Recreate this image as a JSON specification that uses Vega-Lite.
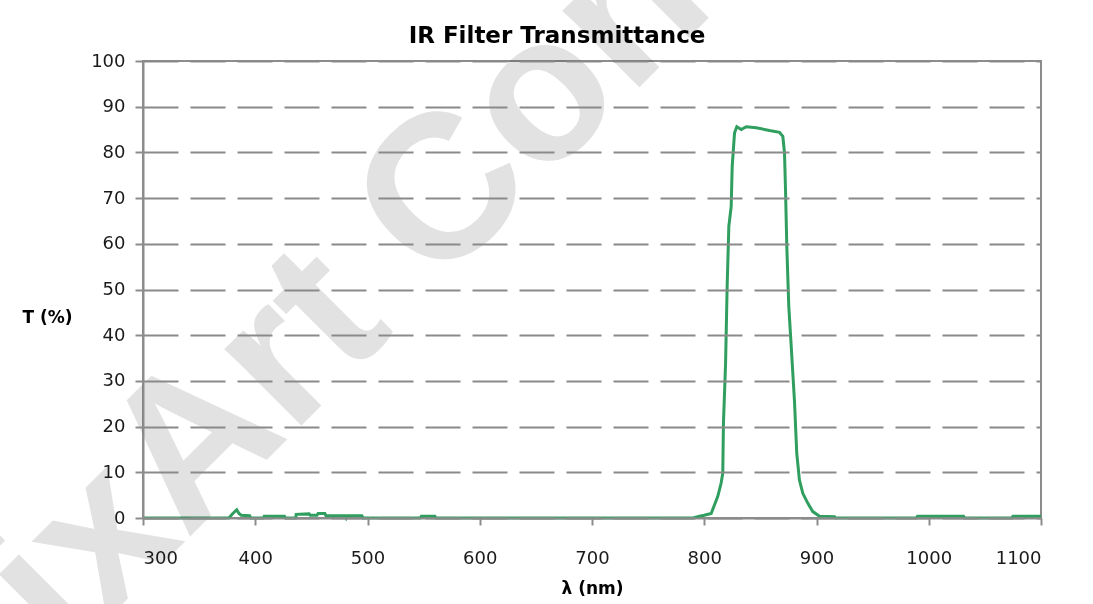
{
  "$schema": "https://vega.github.io/schema/vega-lite/v6.json",
  "width": 898,
  "height": 457,
  "autosize": {"type": "none"},
  "padding": {"left": 143, "top": 61, "right": 52, "bottom": 86},
  "background": "white",
  "config": {"font": "DejaVu Sans", "view": {"stroke": "#8c8c8c", "strokeWidth": 2}},
  "title": {"text": "IR Filter Transmittance", "font": "DejaVu Sans", "fontSize": 23, "fontWeight": "bold", "color": "#000000", "anchor": "middle", "dx": -35, "baseline": "alphabetic", "offset": -729},
  "data": {"values": [
    {"nm": 300, "T": 0}, {"nm": 370, "T": 0}, {"nm": 376.5, "T": 0}, {"nm": 380, "T": 1.0}, {"nm": 383.5, "T": 1.8},
    {"nm": 385.5, "T": 1.0}, {"nm": 387.5, "T": 0.6}, {"nm": 395, "T": 0.5}, {"nm": 396, "T": 0}, {"nm": 407, "T": 0},
    {"nm": 408, "T": 0.4}, {"nm": 426, "T": 0.4}, {"nm": 427, "T": 0}, {"nm": 436, "T": 0}, {"nm": 436.5, "T": 0.8},
    {"nm": 448, "T": 0.9}, {"nm": 449, "T": 0.6}, {"nm": 455, "T": 0.6}, {"nm": 456, "T": 1.0}, {"nm": 462, "T": 1.0},
    {"nm": 463, "T": 0.5}, {"nm": 480, "T": 0.5}, {"nm": 481, "T": 0}, {"nm": 482, "T": 0.5}, {"nm": 495, "T": 0.5},
    {"nm": 496, "T": 0}, {"nm": 547, "T": 0}, {"nm": 548, "T": 0.4}, {"nm": 560, "T": 0.4}, {"nm": 561, "T": 0},
    {"nm": 790, "T": 0}, {"nm": 795.8, "T": 0.4}, {"nm": 800, "T": 0.6}, {"nm": 806.2, "T": 1.0}, {"nm": 809, "T": 2.8},
    {"nm": 812, "T": 4.7}, {"nm": 815, "T": 7.6}, {"nm": 816.5, "T": 9.8}, {"nm": 817.1, "T": 20.7}, {"nm": 819, "T": 33.9},
    {"nm": 820.4, "T": 50.7}, {"nm": 821.9, "T": 63.8}, {"nm": 824, "T": 68.2}, {"nm": 824.9, "T": 77}, {"nm": 827, "T": 84.3},
    {"nm": 829, "T": 85.6}, {"nm": 833, "T": 85}, {"nm": 837.4, "T": 85.6}, {"nm": 846.3, "T": 85.4}, {"nm": 858.1, "T": 84.8},
    {"nm": 867, "T": 84.4}, {"nm": 870, "T": 83.5}, {"nm": 871.5, "T": 79.9}, {"nm": 872.4, "T": 71.9}, {"nm": 873.5, "T": 59.8},
    {"nm": 875.3, "T": 46.3}, {"nm": 877.4, "T": 37.9}, {"nm": 880.4, "T": 25.5}, {"nm": 882.4, "T": 14.2}, {"nm": 884.8, "T": 8.3},
    {"nm": 887.8, "T": 5.4}, {"nm": 892.3, "T": 3.2}, {"nm": 896.7, "T": 1.4}, {"nm": 902.7, "T": 0.4}, {"nm": 916, "T": 0.3},
    {"nm": 917, "T": 0}, {"nm": 989, "T": 0}, {"nm": 990, "T": 0.4}, {"nm": 1031, "T": 0.4}, {"nm": 1032, "T": 0},
    {"nm": 1074, "T": 0}, {"nm": 1075, "T": 0.4}, {"nm": 1100, "T": 0.4}
  ]},
  "layer": [
    {
      "mark": {"type": "line", "color": "#2f9e5f", "strokeWidth": 3},
      "encoding": {
        "x": {"field": "nm", "type": "quantitative", "scale": {"domain": [300, 1100], "nice": false, "zero": false},
          "axis": {"title": "λ (nm)", "values": [300, 400, 500, 600, 700, 800, 900, 1000, 1100], "format": "d", "grid": false,
            "tickSize": 7, "tickWidth": 2, "tickColor": "#8c8c8c", "domainColor": "#8c8c8c", "domainWidth": 2,
            "labelFont": "DejaVu Sans", "labelFontSize": 18, "labelColor": "#1a1a1a", "labelPadding": 24,
            "titleFont": "DejaVu Sans", "titleFontSize": 17, "titleFontWeight": "bold", "titleColor": "#000000", "titlePadding": 13, "zindex": 1}},
        "y": {"field": "T", "type": "quantitative", "scale": {"domain": [0, 100], "nice": false},
          "axis": {"title": "T (%)", "titleAngle": 0, "titleAlign": "left", "titleBaseline": "middle", "titleX": -121, "titleY": 256,
            "titleFont": "DejaVu Sans", "titleFontSize": 17, "titleFontWeight": "bold", "titleColor": "#000000",
            "values": [0, 10, 20, 30, 40, 50, 60, 70, 80, 90, 100], "grid": true, "gridDash": [35, 12], "gridColor": "#8a8a8a", "gridWidth": 2,
            "tickSize": 8, "tickWidth": 2, "tickColor": "#8c8c8c", "domainColor": "#8c8c8c", "domainWidth": 2,
            "labelFont": "DejaVu Sans", "labelFontSize": 18, "labelColor": "#1a1a1a", "labelPadding": 10, "zindex": 1}}
      }
    },
    {
      "data": {"values": [{"label": "PixArt Confidential"}]},
      "mark": {"type": "text", "angle": -45, "font": "Liberation Sans", "fontWeight": "bold", "fontSize": 205, "color": "#e2e2e2", "blend": "multiply", "align": "center", "baseline": "middle"},
      "encoding": {
        "x": {"datum": 687, "type": "quantitative"},
        "y": {"datum": 99.9, "type": "quantitative"},
        "text": {"field": "label"}
      }
    }
  ]
}
